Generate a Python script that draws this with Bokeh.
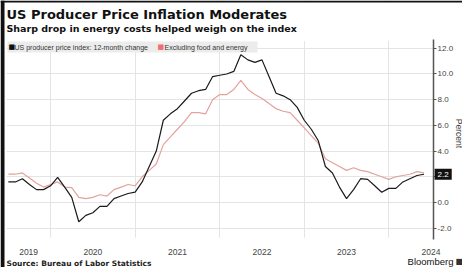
import math
from bokeh.plotting import figure
from bokeh.models import (FixedTicker, Label, Range1d, BoxAnnotation,
                          ColumnDataSource, NumeralTickFormatter)
from bokeh.embed import file_html
from bokeh.resources import INLINE

# ---- data: monthly, Jun 2019 .. May 2024 ----
years = [2019] * 7 + [2020] * 12 + [2021] * 12 + [2022] * 12 + [2023] * 12 + [2024] * 5
months = list(range(6, 13)) + list(range(1, 13)) * 4 + list(range(1, 6))

ppi = [1.6, 1.6, 1.85, 1.4, 1.0, 1.0, 1.3,
       1.95, 1.2, 0.4, -1.5, -1.0, -0.8, -0.3, -0.3, 0.3, 0.5, 0.7, 0.8,
       1.6, 2.8, 4.0, 6.4, 6.9, 7.3, 7.9, 8.5, 8.7, 8.8, 9.8, 9.9,
       10.0, 10.2, 11.5, 11.1, 10.9, 11.1, 9.8, 8.5, 8.3, 8.0, 7.4, 6.4,
       5.7, 4.8, 2.8, 2.3, 1.2, 0.3, 1.0, 1.85, 1.8, 1.3, 0.8, 1.1,
       1.1, 1.6, 1.85, 2.1, 2.2]

core = [2.2, 2.2, 2.3, 1.9, 1.5, 1.2, 1.4,
        1.6, 1.2, 1.15, 0.4, 0.3, 0.4, 0.6, 0.5, 1.0, 1.2, 1.4, 1.3,
        2.0, 2.5, 3.0, 4.5, 5.1, 5.7, 6.3, 7.0, 7.0, 6.9, 8.0, 8.4,
        8.4, 8.8, 9.5, 8.8, 8.4, 8.1, 7.7, 7.3, 7.1, 7.0, 6.4, 5.8,
        5.2, 4.6, 3.4, 3.1, 2.8, 2.5, 2.7, 2.5, 2.4, 2.2, 2.0, 1.8,
        2.0, 2.1, 2.2, 2.4, 2.3]

year_labels = ["2019", "2020", "2021", "2022", "2023", "2024"]
y_ticks = [-2, 0, 2, 4, 6, 8, 10, 12]
last_value_label = "2.2"

title_text = "US Producer Price Inflation Moderates"
subtitle_text = "Sharp drop in energy costs helped weigh on the index"
legend_names = ["US producer price index: 12-month change", "Excluding food and energy"]
source_text = "Source: Bureau of Labor Statistics"
brand_text = "Bloomberg"
unit_text = "Percent"

# month-end positions in fractional years
t = [y + m / 12.0 for y, m in zip(years, months)]
src = ColumnDataSource(dict(t=t, ppi=ppi, core=core))

# ---- layout: the frame covers the whole canvas; the chart area is a sub-box ----
W, H = 462, 267
X0, XAX = 2019.48, 2024.53          # chart area left edge / value-axis position
YB, YT = -2.75, 12.55               # chart area bottom / top
p = figure(width=W, height=H, output_backend="svg", toolbar_location=None,
           x_range=Range1d(2019.4075, 2024.8717),
           y_range=Range1d(-5.06, 15.72),
           y_axis_location="right",
           min_border_left=0, min_border_top=0, min_border_bottom=0,
           min_border_right=0)
p.outline_line_color = None
p.background_fill_color = "white"
p.border_fill_color = "white"

# grids
p.xgrid.ticker = FixedTicker(ticks=[2020, 2021, 2022, 2023, 2024])
p.ygrid.ticker = FixedTicker(ticks=y_ticks)
p.xgrid.grid_line_color = "#e4e4e4"
p.ygrid.grid_line_color = "#e4e4e4"

# white masks keep the grid inside the chart area
for kw in (dict(left=XAX), dict(right=X0), dict(bottom=YT), dict(top=YB)):
    p.add_layout(BoxAnnotation(fill_color="white", fill_alpha=1.0,
                               line_color=None, level="underlay", **kw))

# x axis: year labels centred in the visible part of each year
label_pos = [(max(int(yl), X0) + int(yl) + 1) / 2 for yl in year_labels]
xa = p.xaxis[0]
xa.fixed_location = YB
xa.ticker = FixedTicker(ticks=label_pos)
xa.major_label_overrides = {lp: yl for lp, yl in zip(label_pos, year_labels)}
xa.axis_line_color = None
xa.major_tick_line_color = None
xa.minor_tick_line_color = None
xa.major_tick_out = 0
xa.major_tick_in = 0
xa.major_label_text_font = "Liberation Sans"
xa.major_label_text_font_size = "8.5px"
xa.major_label_text_color = "#444444"
xa.major_label_standoff = 11

ya = p.yaxis[0]
ya.fixed_location = XAX
ya.bounds = (YB - 0.1, YT + 0.15)
ya.ticker = FixedTicker(ticks=y_ticks)
ya.formatter = NumeralTickFormatter(format="0.0")
ya.axis_line_color = "#555555"
ya.axis_line_width = 1.5
ya.major_tick_line_color = "#555555"
ya.major_tick_out = 3
ya.major_tick_in = 0
ya.minor_tick_line_color = None
ya.major_label_text_font = "Liberation Sans"
ya.major_label_text_font_size = "8px"
ya.major_label_text_color = "#444444"
ya.major_label_standoff = 1

# lines
p.line("t", "core", source=src, line_color="#e3a29d", line_width=1.2)
p.line("t", "ppi", source=src, line_color="#1a1a1a", line_width=1.2)

# legend (drawn with labels: grey band, coloured squares, names)
p.add_layout(BoxAnnotation(left=7, right=257, bottom=H - 52, top=H - 41,
                           left_units="screen", right_units="screen",
                           bottom_units="screen", top_units="screen",
                           fill_color="#ececec", fill_alpha=1.0,
                           line_color=None, level="underlay"))
leg_font = dict(text_font="Liberation Sans", text_font_size="7px",
                text_color="#333333", text_baseline="middle")
p.add_layout(Label(x=8, y=H - 46.5, x_units="screen", y_units="screen",
                   text="\u25a0", text_font="DejaVu Sans", text_font_size="7px",
                   text_color="#111111", text_baseline="middle"))
p.add_layout(Label(x=14, y=H - 46.5, x_units="screen", y_units="screen",
                   text=legend_names[0], **leg_font))
p.add_layout(Label(x=157, y=H - 46.5, x_units="screen", y_units="screen",
                   text="\u25a0", text_font="DejaVu Sans", text_font_size="7px",
                   text_color="#ee6f6f", text_baseline="middle"))
p.add_layout(Label(x=164, y=H - 46.5, x_units="screen", y_units="screen",
                   text=legend_names[1], **leg_font))

# last value tag
p.add_layout(Label(x=XAX, y=ppi[-1], x_units="data", y_units="data",
                   text=last_value_label, text_font="Liberation Sans",
                   text_font_size="8px", text_color="white",
                   text_baseline="middle", x_offset=1,
                   background_fill_color="#111111", padding=3))

# unit label
p.add_layout(Label(x=458, y=H - 133, x_units="screen", y_units="screen",
                   text=unit_text, text_font="Liberation Sans",
                   text_font_size="8.5px", text_color="#444444",
                   angle=-math.pi / 2, text_align="center",
                   text_baseline="middle"))

# titles and footer
p.add_layout(Label(x=6, y=H - 6, x_units="screen", y_units="screen",
                   text=title_text, text_font="DejaVu Sans",
                   text_font_style="bold", text_font_size="13px",
                   text_color="#111111", text_baseline="top"))
p.add_layout(Label(x=6, y=H - 22.5, x_units="screen", y_units="screen",
                   text=subtitle_text, text_font="DejaVu Sans",
                   text_font_style="bold", text_font_size="9.5px",
                   text_color="#111111", text_baseline="top"))
p.add_layout(Label(x=6, y=4, x_units="screen", y_units="screen",
                   text=source_text, text_font="DejaVu Sans",
                   text_font_style="bold", text_font_size="7.5px",
                   text_color="#222222", text_baseline="middle"))
p.add_layout(Label(x=453, y=6, x_units="screen", y_units="screen",
                   text=brand_text, text_font="Liberation Sans",
                   text_font_size="9.5px", text_color="#111111",
                   text_align="right", text_baseline="middle"))
p.add_layout(Label(x=455, y=6, x_units="screen", y_units="screen",
                   text="\u25a0", text_font="DejaVu Sans",
                   text_font_size="8px", text_color="#333333",
                   text_baseline="middle"))

# dark frame edges of the original picture
p.add_layout(BoxAnnotation(left=0, right=4, left_units="screen",
                           right_units="screen", fill_color="#111111",
                           fill_alpha=1.0, line_color=None, level="overlay"))
p.add_layout(BoxAnnotation(bottom=H - 2, bottom_units="screen",
                           fill_color="#111111", fill_alpha=1.0,
                           line_color=None, level="overlay"))

open("out.html", "w").write(file_html(p, INLINE))
